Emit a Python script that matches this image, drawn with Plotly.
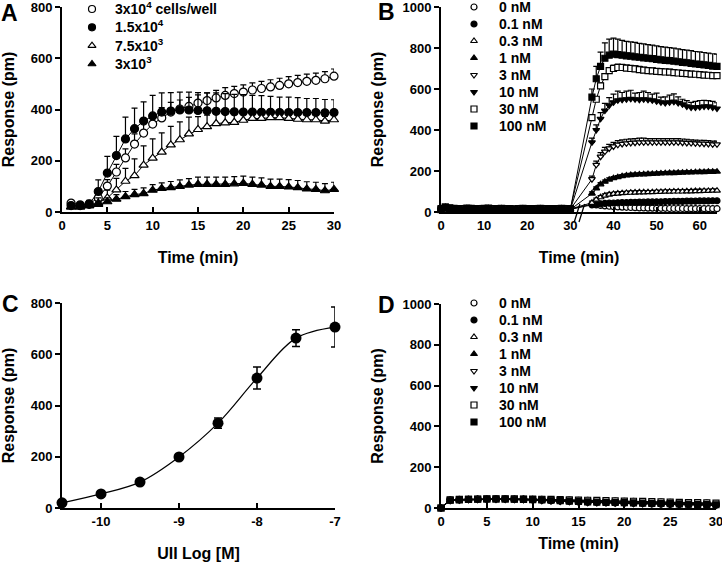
import plotly.graph_objects as go

W, H = 722, 562
FONT = "Liberation Sans, Arial, sans-serif"

# ---- panel A: cell density time course (t = 1..30 min) ----
A_TIME = list(range(1, 31))
A_NAMES = ["3x10<sup>4</sup> cells/well", "1.5x10<sup>4</sup>", "7.5x10<sup>3</sup>", "3x10<sup>3</sup>"]
A_30K = [35, 28, 32, 55, 101, 156, 211, 265, 308, 343, 367, 390, 402, 412, 425, 435, 445, 455,
         462, 468, 476, 482, 488, 494, 500, 505, 510, 514, 520, 530]
A_15K = [25, 25, 30, 80, 152, 220, 285, 325, 355, 375, 390, 394, 398, 398, 396, 395, 393, 392,
         391, 390, 390, 389, 389, 388, 388, 388, 388, 388, 387, 388]
A_7K5 = [20, 20, 25, 35, 55, 86, 120, 142, 183, 210, 234, 262, 282, 305, 322, 333, 345, 348,
         350, 358, 365, 365, 368, 368, 365, 362, 360, 360, 355, 360]
A_3K = [20, 20, 25, 30, 40, 50, 60, 68, 72, 85, 92, 95, 100, 105, 108, 108, 108, 108, 110, 112,
        108, 105, 100, 100, 98, 95, 90, 88, 83, 88]
A_30K_ERR = [8, 8, 10, 15, 25, 30, 35, 40, 40, 40, 40, 38, 35, 35, 32, 30, 30, 30, 28, 28, 28,
             28, 28, 28, 28, 28, 28, 28, 28, 28]
A_15K_ERR = [10, 10, 15, 45, 65, 75, 85, 80, 75, 80, 75, 72, 70, 70, 70, 70, 72, 70, 68, 68, 65,
             65, 62, 60, 60, 58, 55, 55, 52, 50]
A_7K5_ERR = [5, 5, 10, 20, 30, 45, 50, 65, 75, 75, 75, 72, 70, 65, 50, 45, 40, 35, 30, 28, 25,
             22, 20, 20, 18, 18, 18, 18, 18, 18]
A_3K_ERR = [5, 5, 8, 10, 15, 18, 20, 20, 22, 22, 22, 24, 25, 25, 28, 28, 28, 28, 28, 28, 28, 28,
            28, 28, 28, 28, 28, 28, 28, 28]

# ---- panel B: UII concentrations, baseline 0..30 min then stimulation 35..64 min ----
CONC = ["0 nM", "0.1 nM", "0.3 nM", "1 nM", "3 nM", "10 nM", "30 nM", "100 nM"]
B_PRE_TIME = list(range(0, 31))
B_POST_TIME = list(range(35, 65))
B_PRE = [
    [15, 22, 18, 16, 14, 15, 17, 16, 14, 15, 16, 17, 15, 14, 16, 15, 14, 13, 15, 16, 14, 14, 15, 16, 15, 14, 14, 15, 16, 15, 14],
    [12, 20, 16, 14, 13, 14, 15, 14, 13, 14, 15, 15, 14, 13, 14, 14, 13, 12, 14, 15, 13, 13, 14, 15, 14, 13, 13, 14, 15, 14, 13],
    [14, 24, 19, 17, 15, 16, 18, 17, 15, 16, 17, 18, 16, 15, 17, 16, 15, 14, 16, 17, 15, 15, 16, 17, 16, 15, 15, 16, 17, 16, 15],
    [10, 18, 15, 13, 12, 13, 14, 13, 12, 13, 14, 14, 13, 12, 13, 13, 12, 11, 13, 14, 12, 12, 13, 14, 13, 12, 12, 13, 14, 13, 12],
    [13, 21, 17, 15, 14, 15, 16, 15, 14, 15, 16, 16, 15, 14, 15, 15, 14, 13, 15, 16, 14, 14, 15, 16, 15, 14, 14, 15, 16, 15, 14],
    [11, 19, 16, 14, 12, 13, 15, 14, 12, 13, 14, 15, 13, 12, 14, 13, 12, 11, 13, 14, 12, 12, 13, 14, 13, 12, 12, 13, 14, 13, 12],
    [16, 25, 20, 18, 16, 17, 19, 18, 16, 17, 18, 19, 17, 16, 18, 17, 16, 15, 17, 18, 16, 16, 17, 18, 17, 16, 16, 17, 18, 17, 16],
    [12, 22, 18, 15, 13, 14, 16, 15, 13, 14, 15, 16, 14, 13, 15, 14, 13, 12, 14, 15, 13, 13, 14, 15, 14, 13, 13, 14, 15, 14, 13],
]
B_POST = [
    [38, 35, 32, 30, 28, 26, 25, 24, 23, 22, 21, 20, 20, 19, 19, 18, 18, 18, 17, 17, 17, 17, 16, 16, 16, 16, 16, 16, 16, 16],
    [35, 38, 40, 42, 43, 44, 45, 46, 46, 47, 47, 48, 48, 49, 49, 50, 50, 51, 51, 52, 52, 52, 53, 53, 53, 54, 54, 54, 55, 55],
    [45, 60, 72, 80, 85, 88, 90, 92, 93, 94, 95, 96, 96, 97, 97, 98, 98, 99, 99, 100, 100, 100, 101, 101, 102, 102, 103, 103, 104, 104],
    [90, 115, 135, 148, 158, 165, 170, 175, 178, 180, 182, 183, 184, 185, 186, 187, 188, 189, 190, 190, 191, 192, 193, 193, 194, 195, 195, 196, 196, 197],
    [160, 230, 270, 295, 310, 320, 328, 332, 335, 337, 338, 340, 340, 340, 340, 340, 340, 340, 340, 340, 340, 338, 337, 336, 335, 334, 333, 332, 330, 330],
    [340, 400, 455, 495, 520, 535, 545, 548, 550, 552, 550, 548, 550, 548, 545, 540, 535, 532, 535, 538, 532, 525, 515, 510, 510, 512, 515, 515, 510, 505],
    [460, 550, 615, 660, 690, 700, 705, 705, 702, 700, 698, 695, 692, 690, 688, 686, 685, 683, 682, 680, 678, 676, 675, 673, 672, 670, 668, 667, 665, 665],
    [560, 650, 710, 750, 765, 770, 768, 765, 762, 760, 757, 755, 752, 750, 748, 745, 742, 740, 738, 736, 733, 730, 728, 725, 722, 720, 718, 715, 712, 710],
]
B_POST_ERR = [
    [4, 4, 4, 4, 4, 4, 4, 4, 4, 4, 4, 4, 4, 4, 4, 4, 4, 4, 4, 4, 4, 4, 4, 4, 4, 4, 4, 4, 4, 4],
    [5, 5, 5, 5, 5, 5, 5, 5, 5, 5, 5, 5, 5, 5, 5, 5, 5, 5, 5, 5, 5, 5, 5, 5, 5, 5, 5, 5, 5, 5],
    [8, 8, 8, 8, 8, 8, 8, 8, 8, 8, 8, 8, 8, 8, 8, 8, 8, 8, 8, 8, 8, 8, 8, 8, 8, 8, 8, 8, 8, 8],
    [8, 8, 8, 8, 8, 8, 8, 8, 8, 8, 8, 8, 8, 8, 8, 8, 8, 8, 8, 8, 8, 8, 8, 8, 8, 8, 8, 8, 8, 8],
    [15, 18, 20, 20, 20, 20, 20, 20, 20, 20, 20, 20, 20, 18, 18, 18, 18, 18, 18, 18, 18, 18, 18, 16, 16, 16, 16, 16, 16, 16],
    [20, 25, 30, 35, 38, 40, 45, 35, 40, 42, 30, 35, 40, 35, 30, 40, 25, 30, 35, 38, 30, 25, 28, 25, 30, 32, 30, 28, 30, 28],
    [10, 12, 14, 15, 15, 16, 16, 15, 15, 15, 15, 15, 14, 14, 14, 14, 14, 14, 14, 14, 13, 13, 13, 13, 13, 13, 13, 13, 13, 13],
    [40, 60, 70, 75, 78, 78, 75, 72, 70, 70, 70, 68, 68, 66, 66, 65, 65, 64, 64, 63, 63, 62, 62, 62, 61, 61, 60, 60, 60, 60],
]

# ---- panel C: concentration-response ----
C_LOGM = [-10.5, -10, -9.5, -9, -8.5, -8, -7.5, -7]
C_RESP = [20, 55, 101, 199, 331, 507, 663, 706]
C_ERR = [3, 5, 6, 8, 20, 43, 33, 78]
C_TICKVALS = [-10, -9, -8, -7]
C_TICKTEXT = ["-10", "-9", "-8", "-7"]

# ---- panel D: UII with antagonist, 0..30 min ----
D_TIME = list(range(0, 31))
D_RESP = [
    [0, 40, 42, 43, 44, 44, 45, 45, 44, 44, 43, 42, 41, 40, 39, 38, 37, 36, 35, 34, 33, 32, 31, 30, 29, 28, 27, 26, 25, 24, 22],
    [0, 38, 40, 42, 43, 43, 44, 44, 43, 42, 40, 38, 36, 34, 32, 30, 28, 27, 26, 25, 24, 23, 22, 20, 19, 18, 17, 16, 15, 15, 14],
    [0, 39, 41, 42, 43, 44, 44, 44, 43, 43, 42, 41, 40, 38, 36, 35, 34, 33, 32, 31, 30, 29, 28, 27, 26, 25, 24, 23, 22, 21, 20],
    [0, 37, 39, 41, 42, 42, 43, 43, 42, 41, 39, 37, 35, 33, 31, 30, 29, 28, 27, 26, 25, 24, 23, 22, 21, 20, 19, 18, 18, 17, 16],
    [0, 38, 40, 41, 42, 43, 43, 43, 42, 41, 40, 38, 36, 34, 33, 31, 30, 29, 28, 27, 26, 25, 24, 23, 22, 21, 20, 19, 18, 18, 17],
    [0, 36, 38, 40, 41, 42, 42, 42, 41, 40, 38, 36, 34, 32, 30, 28, 26, 25, 24, 23, 22, 21, 20, 19, 18, 17, 16, 15, 14, 13, 12],
    [0, 40, 42, 43, 44, 45, 45, 45, 45, 44, 44, 43, 42, 41, 40, 39, 38, 37, 36, 35, 34, 33, 32, 31, 30, 29, 28, 27, 26, 25, 24],
    [0, 38, 40, 42, 43, 44, 44, 44, 43, 42, 41, 40, 38, 36, 34, 32, 30, 29, 28, 27, 26, 25, 24, 23, 22, 21, 20, 19, 18, 17, 16],
]
D_ERR = [0, 5, 5, 5, 5, 5, 5, 5, 5, 5, 5, 5, 5, 5, 5, 5, 5, 5, 5, 5, 6, 6, 6, 6, 6, 8, 8, 8, 8, 8, 8]

A_SYMBOLS = [("circle", False), ("circle", True), ("triangle-up", False), ("triangle-up", True)]
SYMBOLS = [("circle", False), ("circle", True), ("triangle-up", False), ("triangle-up", True),
           ("triangle-down", False), ("triangle-down", True), ("square", False), ("square", True)]


def px(x):
    return x / W


def py(y):
    return 1 - y / H


def marker(symbol, filled, size):
    return dict(symbol=symbol, size=size, color="black" if filled else "white",
                line=dict(color="black", width=1.2))


def add_series(fig, x, y, err, symbol, filled, size, xa, ya):
    fig.add_trace(go.Scatter(
        x=x, y=y, mode="lines", line=dict(color="black", width=1),
        xaxis=xa, yaxis=ya, hoverinfo="skip", cliponaxis=False,
    ))
    fig.add_trace(go.Scatter(
        x=x, y=y, mode="markers", marker=marker(symbol, filled, size),
        error_y=dict(type="data", array=err, arrayminus=[0] * len(err), symmetric=False,
                     color="black", thickness=1.2, width=3),
        xaxis=xa, yaxis=ya, cliponaxis=False,
    ))


def add_key(fig, names, symbols, size, xa, ya):
    # legend keys: one marker per category row on a dedicated category axis
    for name, (sym, filled) in zip(names, symbols):
        fig.add_trace(go.Scatter(
            x=[0], y=[name], mode="markers", marker=marker(sym, filled, size),
            xaxis=xa, yaxis=ya, hoverinfo="skip", cliponaxis=False,
        ))


def axis(domain, rng, ticks, dtick, title, anchor, standoff=None, **extra):
    d = dict(
        domain=domain, range=rng, showline=True, linecolor="black", linewidth=2,
        ticks=ticks, ticklen=5, tickwidth=2, tickcolor="black", dtick=dtick,
        showgrid=False, zeroline=False, anchor=anchor, fixedrange=True, automargin=False,
        ticklabeloverflow="allow",
        tickfont=dict(family=FONT, size=13, color="black", weight="bold"),
        title=dict(text=title, font=dict(family=FONT, size=16, color="black", weight="bold")),
    )
    if standoff is not None:
        d["title"]["standoff"] = standoff
    d.update(extra)
    return d


def key_axes(mx, first, last, names, anchor, standoff):
    xa = dict(domain=[px(mx - 10), px(mx + 10)], range=[-1, 1], visible=False,
              fixedrange=True, automargin=False)
    ya = dict(domain=[py(last), py(first)], type="category", categoryorder="array",
              categoryarray=names, range=[len(names) - 1, 0], side="right", anchor=anchor,
              showline=False, showgrid=False, zeroline=False, ticks="", fixedrange=True,
              automargin=False, ticklabelstandoff=standoff, ticklabeloverflow="allow",
              tickfont=dict(family=FONT, size=14, color="black", weight="bold"))
    return xa, ya


def main() -> None:
    fig = go.Figure()

    a_series = [(A_30K, A_30K_ERR), (A_15K, A_15K_ERR), (A_7K5, A_7K5_ERR), (A_3K, A_3K_ERR)]
    for (vals, err), (sym, filled) in zip(a_series, A_SYMBOLS):
        add_series(fig, A_TIME, vals, err, sym, filled, 8, "x", "y")
    add_key(fig, A_NAMES, A_SYMBOLS, 7, "x5", "y5")

    b_time = B_PRE_TIME + B_POST_TIME
    for i in range(len(CONC)):
        sym, filled = SYMBOLS[i]
        vals = B_PRE[i] + B_POST[i]
        err = [0] * len(B_PRE[i]) + B_POST_ERR[i]
        add_series(fig, b_time, vals, err, sym, filled, 6, "x2", "y2")
    add_key(fig, CONC, SYMBOLS, 6, "x6", "y6")

    fig.add_trace(go.Scatter(
        x=C_LOGM, y=C_RESP, mode="lines+markers",
        line=dict(color="black", width=1.2, shape="spline"),
        marker=dict(symbol="circle", size=11, color="black"),
        error_y=dict(type="data", array=C_ERR, color="black", thickness=1.5, width=4),
        xaxis="x3", yaxis="y3", cliponaxis=False,
    ))

    for i in range(len(CONC)):
        sym, filled = SYMBOLS[i]
        add_series(fig, D_TIME, D_RESP[i], D_ERR, sym, filled, 6, "x4", "y4")
    add_key(fig, CONC, SYMBOLS, 6, "x7", "y7")

    # axis break marks "//" on the panel B time axis (paper y so they are not clipped)
    shapes = [
        dict(type="line", xref="x2", yref="paper", x0=x0, y0=py(222), x1=x0 + 1.3, y1=py(204),
             line=dict(color="black", width=1.3))
        for x0 in (30.9, 32.0)
    ]

    letters = [("A", 9, 13), ("B", 386, 12), ("C", 10, 304), ("D", 386, 305)]
    annotations = [
        dict(text=t, x=px(x), y=py(y), xref="paper", yref="paper", showarrow=False,
             xanchor="center", yanchor="middle",
             font=dict(family=FONT, size=23, color="black", weight="bold"))
        for t, x, y in letters
    ]

    xa5, ya5 = key_axes(92, 9, 64, A_NAMES, "x5", 12)
    xa6, ya6 = key_axes(474, 7, 126, CONC, "x6", 14)
    xa7, ya7 = key_axes(474, 303, 422, CONC, "x7", 14)

    fig.update_layout(
        width=W, height=H, margin=dict(l=0, r=0, t=0, b=0),
        paper_bgcolor="white", plot_bgcolor="white", showlegend=False,
        font=dict(family=FONT, color="black"),
        xaxis=axis([px(62), px(334)], [0, 30], "inside", 5, "Time (min)", "y", 20),
        yaxis=axis([py(212), py(7)], [0, 800], "outside", 200, "Response (pm)", "x"),
        xaxis2=axis([px(441), px(717)], [0, 64], "inside", 10, "Time (min)", "y2", 20),
        yaxis2=axis([py(212), py(7)], [0, 1000], "outside", 200, "Response (pm)", "x2"),
        xaxis3=axis([px(62), px(335)], [-10.5, -7], "inside", None, "UII Log [M]", "y3", 20,
                    tickvals=C_TICKVALS, ticktext=C_TICKTEXT),
        yaxis3=axis([py(508), py(303)], [0, 800], "outside", 200, "Response (pm)", "x3"),
        xaxis4=axis([px(441), px(716)], [0, 30], "inside", 5, "Time (min)", "y4", 10),
        yaxis4=axis([py(508), py(304)], [0, 1000], "outside", 200, "Response (pm)", "x4"),
        xaxis5=xa5, yaxis5=ya5, xaxis6=xa6, yaxis6=ya6, xaxis7=xa7, yaxis7=ya7,
        shapes=shapes,
        annotations=annotations,
    )
    # the page body has a default 8px margin; drop it so the figure fills the window
    fig.write_html("out.html", config={"displayModeBar": False},
                   post_script="document.body.style.margin = '0';")


if __name__ == "__main__":
    main()
